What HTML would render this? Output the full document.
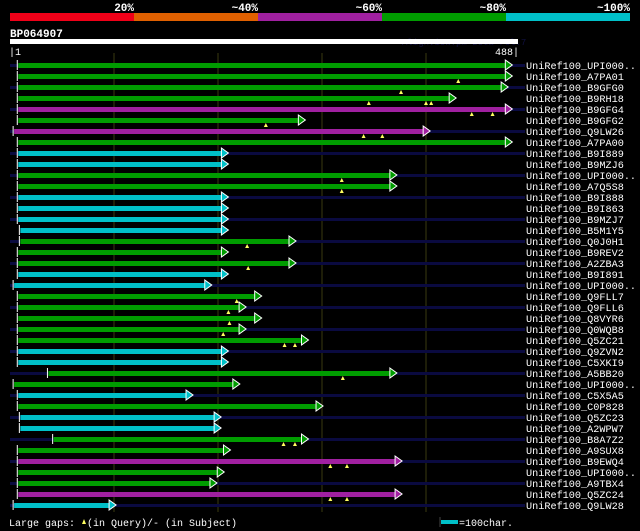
<!DOCTYPE html>
<html><head><meta charset="utf-8"><style>
html,body{margin:0;padding:0;background:#000;}
svg{display:block;font-family:"Liberation Mono","DejaVu Sans Mono",monospace;}
</style></head><body>
<svg id="chart" width="640" height="531" viewBox="0 0 640 531">
<rect width="640" height="531" fill="#000"/>
<g>
<rect x="10" y="13" width="124" height="8" fill="#f00018"/>
<rect x="134" y="13" width="124" height="8" fill="#e06000"/>
<rect x="258" y="13" width="124" height="8" fill="#a020a0"/>
<rect x="382" y="13" width="124" height="8" fill="#009c00"/>
<rect x="506" y="13" width="124" height="8" fill="#00c0c8"/>
<g fill="#fff" font-size="11" font-weight="bold" text-anchor="end">
<text x="134" y="11">20%</text><text x="258" y="11">~40%</text><text x="382" y="11">~60%</text><text x="506" y="11">~80%</text><text x="630" y="11">~100%</text>
</g></g>
<text x="10" y="37" fill="#fff" font-size="11" font-weight="bold">BP064907</text>
<text x="402" y="45" fill="#101040" font-size="9">AlignView.pm Beta rel.7</text>
<rect x="10" y="39" width="508" height="5" fill="#fff"/>
<text x="9" y="55" fill="#fff" font-size="10">|1</text>
<text x="519" y="55" fill="#fff" font-size="10" text-anchor="end">488|</text>
<g id="grid"></g>
<g id="rows"></g>
<g>
<text x="9" y="526" fill="#fff" font-size="10">Large gaps:</text>
<polygon points="82,524 84,519 86,524" fill="#ffff60"/>
<text x="87" y="526" fill="#fff" font-size="10">(in Query)/- (in Subject)</text>
<line x1="440" y1="517" x2="440" y2="527" stroke="#444" stroke-width="1"/>
<rect x="441" y="520" width="17" height="4" fill="#00c0c8"/>
<text x="459" y="526" fill="#fff" font-size="10">=100char.</text>
</g>
</svg>
<script>
const names=["UniRef100_UPI000..","UniRef100_A7PA01","UniRef100_B9GFG0","UniRef100_B9RH18","UniRef100_B9GFG4","UniRef100_B9GFG2","UniRef100_Q9LW26","UniRef100_A7PA00","UniRef100_B9I889","UniRef100_B9MZJ6","UniRef100_UPI000..","UniRef100_A7Q5S8","UniRef100_B9I888","UniRef100_B9I863","UniRef100_B9MZJ7","UniRef100_B5M1Y5","UniRef100_Q0J0H1","UniRef100_B9REV2","UniRef100_A2ZBA3","UniRef100_B9I891","UniRef100_UPI000..","UniRef100_Q9FLL7","UniRef100_Q9FLL6","UniRef100_Q8VYR6","UniRef100_Q0WQB8","UniRef100_Q5ZC21","UniRef100_Q9ZVN2","UniRef100_C5XKI9","UniRef100_A5BB20","UniRef100_UPI000..","UniRef100_C5X5A5","UniRef100_C0P828","UniRef100_Q5ZC23","UniRef100_A2WPW7","UniRef100_B8A7Z2","UniRef100_A9SUX8","UniRef100_B9EWQ4","UniRef100_UPI000..","UniRef100_A9TBX4","UniRef100_Q5ZC24","UniRef100_Q9LW28"];
const colorClass=["g","g","g","g","m","g","m","g","c","c","g","g","c","c","c","c","g","g","g","c","c","g","g","g","g","g","c","c","g","g","c","g","c","c","g","g","m","g","g","m","c"];
const starts=[7,7,7,7,7,7,3,7,7,7,7,7,7,7,7,9,9,7,7,7,3,7,7,7,7,7,7,7,36,3,7,7,9,9,41,7,7,7,7,7,3];
const ends=[483,483,479,429,483,284,404,483,210,210,372,372,210,210,210,210,275,210,275,210,194,242,227,242,227,287,210,210,372,221,176,301,203,203,287,212,377,206,199,377,102];
const gapMarks=[[],[431],[376],[345,400,405],[444,464],[246],[340,358],[],[],[],[319],[319],[],[],[],[],[228],[],[229],[],[],[218],[210],[211],[205],[264,274],[],[],[320],[],[],[],[],[],[263,274],[],[308,324],[],[],[308,324],[]];
const gridTicks=[100,200,300,400];
const colors={g:"#009c00",m:"#a020a0",c:"#00c0c8"};
const NS="http://www.w3.org/2000/svg";
function xs(v){return 10+v*1.04;}
function ys(i){return 65+i*11;}
function mk(t,a){const e=document.createElementNS(NS,t);for(const k in a)e.setAttribute(k,a[k]);return e;}
const grid=document.getElementById('grid');
gridTicks.forEach(t=>{const l=mk('line',{x1:xs(t),x2:xs(t),y1:53,y2:512,stroke:'#3a3a10','stroke-width':1});


grid.appendChild(l);});
const rows=document.getElementById('rows');
names.forEach((n,i)=>{
 const y=ys(i);const g=mk('g',{});
 
 
 if(i%2===0){g.appendChild(mk('rect',{x:10,y:y-1,width:515,height:3,fill:'#0a0a40'}));}
 const x0=xs(starts[i]),x1=xs(ends[i]);const col=colors[colorClass[i]];
 g.appendChild(mk('line',{x1:x0,x2:x0,y1:y-5,y2:y+5,stroke:'#fff','stroke-width':1}));
 const bar=mk('rect',{x:x0+1,y:y-2,width:x1-x0-7,height:5,fill:col});
 
 
 g.appendChild(bar);
 g.appendChild(mk('polygon',{points:`${x1-7},${y-5} ${x1},${y} ${x1-7},${y+5}`,fill:col,stroke:'#fff','stroke-width':1}));
 gapMarks[i].forEach(v=>{const p=mk('polygon',{points:`${xs(v)-2},${y+7} ${xs(v)},${y+3} ${xs(v)+2},${y+7}`,fill:'#ffff60'});
 
 
 g.appendChild(p);});
 const t=mk('text',{x:526,y:y+4,fill:'#fff','font-size':10.2});t.textContent=n;
 
 
 g.appendChild(t);
 rows.appendChild(g);
});
</script>
</body></html>
